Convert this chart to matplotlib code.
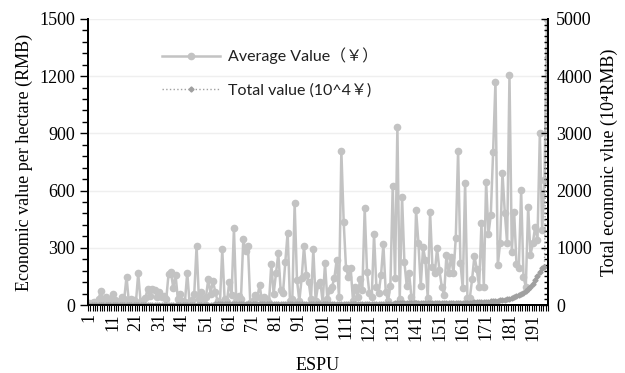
import matplotlib
matplotlib.use('Agg')
import matplotlib.pyplot as plt
from matplotlib.ticker import MultipleLocator, FixedLocator

# economic value per hectare, ESPU 1..197 (RMB)
avg_value = [
    8, 12, 17, 10, 30, 75, 20, 40, 15, 30,
    58, 25, 10, 20, 40, 30, 149, 15, 30, 25,
    10, 166, 20, 10, 35, 82, 45, 82, 79, 40,
    70, 44, 48, 30, 163, 175, 90, 157, 30, 58,
    20, 15, 170, 10, 25, 58, 309, 30, 70, 10,
    40, 135, 60, 126, 70, 20, 10, 292, 30, 15,
    122, 55, 402, 20, 46, 30, 344, 283, 309, 10,
    20, 55, 40, 105, 20, 40, 25, 10, 215, 58,
    166, 271, 80, 61, 227, 379, 20, 30, 533, 131,
    20, 140, 309, 157, 122, 30, 292, 20, 105, 122,
    15, 218, 30, 79, 96, 140, 236, 40, 809, 437,
    192, 149, 192, 20, 96, 40, 135, 79, 507, 175,
    61, 40, 372, 96, 65, 157, 318, 70, 20, 100,
    624, 140, 935, 30, 568, 224, 100, 166, 44, 10,
    498, 327, 100, 302, 236, 35, 489, 201, 166, 297,
    184, 96, 52, 262, 166, 253, 166, 350, 808, 222,
    87, 641, 35, 35, 135, 259, 187, 96, 428, 96,
    647, 372, 472, 804, 1171, 210, 325, 694, 484, 323,
    1206, 280, 489, 215, 194, 603, 148, 96, 516, 262,
    325, 411, 341, 900, 393, 656, 1500,
]

# total economic value (10^4 RMB), sorted ascending
total_value = [
    0.5, 0.6, 0.8, 1.0, 1.1, 1.2, 1.4, 1.5, 1.7, 1.8,
    2.0, 2.1, 2.3, 2.4, 2.6, 2.7, 2.9, 3.0, 3.2, 3.3,
    3.5, 3.6, 3.8, 3.9, 4.1, 4.2, 4.4, 4.5, 4.7, 4.8,
    5.0, 5.1, 5.3, 5.4, 5.6, 5.7, 5.9, 6.0, 6.2, 6.3,
    6.5, 6.6, 6.8, 6.9, 7.1, 7.2, 7.4, 7.5, 7.7, 7.8,
    8.0, 8.2, 8.4, 8.6, 8.8, 9.0, 9.2, 9.4, 9.6, 9.8,
    10.0, 10.2, 10.4, 10.6, 10.8, 11.0, 11.2, 11.4, 11.6, 11.8,
    12.0, 12.2, 12.4, 12.6, 12.8, 13.0, 13.2, 13.4, 13.6, 13.8,
    14.0, 14.2, 14.4, 14.6, 14.8, 15.0, 15.2, 15.4, 15.6, 15.8,
    16.0, 16.2, 16.4, 16.6, 16.8, 17.0, 17.2, 17.4, 17.6, 17.8,
    18.0, 18.2, 18.4, 18.6, 18.8, 19.0, 19.2, 19.4, 19.6, 19.8,
    20.0, 20.3, 20.6, 20.9, 21.2, 21.5, 21.8, 22.1, 22.4, 22.7,
    23.0, 23.3, 23.6, 23.9, 24.2, 24.5, 24.8, 25.1, 25.4, 25.7,
    26.0, 26.3, 26.6, 26.9, 27.2, 27.5, 27.8, 28.1, 28.4, 28.7,
    29.0, 29.3, 29.6, 29.9, 30.2, 30.5, 30.8, 31.1, 31.4, 31.7,
    32.0, 32.4, 32.8, 33.2, 33.6, 34.0, 34.5, 35.0, 35.5, 36.0,
    37, 38, 39, 40, 42, 44, 46, 48, 50, 53,
    56, 59, 62, 66, 70, 75, 80, 86, 93, 100,
    110, 122, 135, 150, 168, 190, 215, 245, 280, 320,
    370, 430, 500, 570, 640, 670, 4340,
]

espu = list(range(1, len(avg_value) + 1))
tick_labels = [str(i) for i in espu if i % 10 == 1]
tick_pos = [i - 1 for i in espu if i % 10 == 1]

serif = ['Liberation Serif', 'DejaVu Serif']
sans = ['Lato', 'Noto Sans CJK SC', 'DejaVu Sans']

fig = plt.figure(figsize=(6.25, 3.73), dpi=100)
ax = fig.add_axes([0.1408, 0.1823, 0.736, 0.767])
ax2 = ax.twinx()

x = [i - 1 for i in espu]
l1, = ax.plot(x, avg_value, color='#C3C3C3', lw=1.8, marker='o', ms=4.5,
              label='Average Value（￥）', zorder=3)
l2, = ax2.plot(x, total_value, color='#A0A0A0', lw=1.0, ls=':', marker='D', ms=2.6,
               label='Total value (10^4￥)')

n = len(espu)
ax.set_xlim(-0.5, n - 0.5)
ax.set_ylim(0, 1500)
ax2.set_ylim(0, 5000)

ax.yaxis.set_major_locator(MultipleLocator(300))
ax.yaxis.set_minor_locator(MultipleLocator(60))
ax2.yaxis.set_major_locator(MultipleLocator(1000))
ax2.yaxis.set_minor_locator(MultipleLocator(100))

ax.xaxis.set_major_locator(FixedLocator(tick_pos))
ax.set_xticklabels(tick_labels, rotation=90, fontfamily=serif, fontsize=13)
ax.xaxis.set_minor_locator(FixedLocator([i - 0.5 for i in range(n + 1)]))
ax.tick_params(axis='x', which='major', length=0, pad=6)
ax.tick_params(axis='x', which='minor', length=4, width=0.8, color='black', direction='out')

ax.tick_params(axis='y', which='major', length=6, width=1, direction='out', labelsize=13)
ax.tick_params(axis='y', which='minor', length=4, width=1, direction='out')
ax2.tick_params(axis='y', which='major', length=5, width=1, direction='in', labelsize=13, pad=6)
ax2.tick_params(axis='y', which='minor', length=3, width=1, direction='in')
for lab in ax.get_yticklabels() + ax2.get_yticklabels():
    lab.set_fontfamily(serif)

ax.grid(axis='y', color='#EFEFEF', lw=1)
ax.set_axisbelow(True)
for a in (ax, ax2):
    a.spines['top'].set_visible(False)
    a.spines['left'].set_linewidth(1.4)
    a.spines['bottom'].set_linewidth(1.4)
    a.spines['right'].set_linewidth(1.4)

ax.set_ylabel('Economic value per hectare (RMB)', fontfamily=serif, fontsize=13, labelpad=4)
ax2.set_ylabel('Total ecomonic vlue (10⁴RMB)', fontfamily=serif, fontsize=13, labelpad=6)
ax.set_xlabel('ESPU', fontfamily=serif, fontsize=13, labelpad=12)

leg = ax.legend(handles=[l1, l2], loc='upper left', bbox_to_anchor=(0.13, 0.95),
                frameon=False, handlelength=3.6, handletextpad=0.5,
                prop={'family': sans, 'size': 11.5}, labelspacing=1.2)
for t in leg.get_texts():
    t.set_color('#202020')

fig.savefig('out.png', dpi=100)
